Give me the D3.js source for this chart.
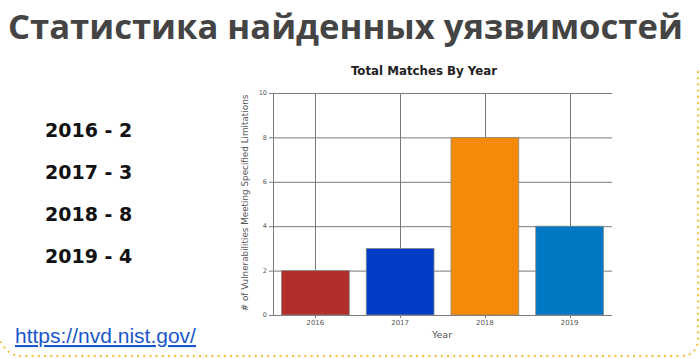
<!DOCTYPE html>
<html>
<head>
<meta charset="utf-8">
<script src="https://d3js.org/d3.v7.min.js"></script>
<style>
  html, body { margin: 0; padding: 0; background: #fff; }
  svg { display: block; }
</style>
</head>
<body>
<div id="chart"></div>
<script>
    const years = ["2016", "2017", "2018", "2019"];
    const matches = [2, 3, 8, 4];
    const barColors = ["#b22e2a", "#003cc6", "#f58a08", "#0078c4"];
    const yTicks = [0, 2, 4, 6, 8, 10];
    const summaryLines = ["2016 - 2", "2017 - 3", "2018 - 8", "2019 - 4"];

    const width = 700, height = 359;
    const svg = d3.select("#chart").append("svg")
        .attr("width", width)
        .attr("height", height);

    // slide heading
    const heading = svg.append("text")
        .attr("x", 8)
        .attr("y", 39)
        .attr("font-family", "Open Sans")
        .attr("font-weight", 700)
        .attr("font-size", 30)
        .attr("fill", "#444")
        .text("Статистика найденных уязвимостей");
    // fit heading to the reference width
    const hw = heading.node().getComputedTextLength();
    heading.attr("font-size", 30 * 675 / hw);

    // dotted frame
    svg.append("path")
        .attr("d", "M698,72 L698,338 Q698,356 680,356 L22,356 Q8,356 1,342")
        .attr("fill", "none")
        .attr("stroke", "#f4c34a")
        .attr("stroke-width", 2.4)
        .attr("stroke-linecap", "round")
        .attr("stroke-dasharray", "0 6.2");

    // summary lines on the left
    svg.append("g")
        .selectAll("text")
        .data(summaryLines)
        .join("text")
        .attr("x", 45)
        .attr("y", (d, i) => 137 + i * 42)
        .attr("font-family", "DejaVu Sans")
        .attr("font-weight", 700)
        .attr("font-size", 19)
        .attr("fill", "#111")
        .text(d => d);

    // link
    svg.append("text")
        .attr("x", 15)
        .attr("y", 343)
        .attr("font-family", "Liberation Sans")
        .attr("font-size", 21)
        .attr("fill", "#1a57c9")
        .attr("text-decoration", "underline")
        .text("https://nvd.nist.gov/");

    // chart
    const plot = { left: 273, right: 612, top: 93, bottom: 315 };

    const x = d3.scaleBand()
        .domain(years)
        .range([plot.left, plot.right])
        .paddingInner(0.2)
        .paddingOuter(0.1);

    const y = d3.scaleLinear()
        .domain([0, 10])
        .range([plot.bottom, plot.top]);

    const g = svg.append("g");

    // horizontal grid
    g.append("g")
        .selectAll("line")
        .data(yTicks)
        .join("line")
        .attr("x1", plot.left - 4)
        .attr("x2", plot.right)
        .attr("y1", d => y(d) + 0.5)
        .attr("y2", d => y(d) + 0.5)
        .attr("stroke", "#7a7a7a")
        .attr("stroke-width", 1);

    // vertical grid at band centres
    g.append("g")
        .selectAll("line")
        .data(years)
        .join("line")
        .attr("x1", d => Math.round(x(d) + x.bandwidth() / 2) + 0.5)
        .attr("x2", d => Math.round(x(d) + x.bandwidth() / 2) + 0.5)
        .attr("y1", plot.top)
        .attr("y2", plot.bottom + 3)
        .attr("stroke", "#7a7a7a")
        .attr("stroke-width", 1);

    // left axis line
    g.append("line")
        .attr("x1", plot.left + 0.5)
        .attr("x2", plot.left + 0.5)
        .attr("y1", plot.top)
        .attr("y2", plot.bottom)
        .attr("stroke", "#7a7a7a");

    // bars
    g.append("g")
        .selectAll("rect")
        .data(matches)
        .join("rect")
        .attr("x", (d, i) => x(years[i]))
        .attr("y", d => y(d))
        .attr("width", x.bandwidth())
        .attr("height", d => y(0) - y(d))
        .attr("fill", (d, i) => barColors[i])
        .attr("stroke", "#8a8a8a")
        .attr("stroke-width", 0.8);

    // y tick labels
    g.append("g")
        .selectAll("text")
        .data(yTicks)
        .join("text")
        .attr("x", plot.left - 6)
        .attr("y", d => y(d))
        .attr("dy", "0.35em")
        .attr("text-anchor", "end")
        .attr("font-family", "DejaVu Sans")
        .attr("font-size", 6.5)
        .attr("fill", "#555")
        .text(d => d);

    // x tick labels
    g.append("g")
        .selectAll("text")
        .data(years)
        .join("text")
        .attr("x", d => x(d) + x.bandwidth() / 2)
        .attr("y", plot.bottom + 10)
        .attr("text-anchor", "middle")
        .attr("font-family", "DejaVu Sans")
        .attr("font-size", 7)
        .attr("fill", "#555")
        .text(d => d);

    // titles
    svg.append("text")
        .attr("x", 424)
        .attr("y", 75)
        .attr("text-anchor", "middle")
        .attr("font-family", "DejaVu Sans")
        .attr("font-weight", 700)
        .attr("font-size", 11.8)
        .attr("fill", "#222")
        .text("Total Matches By Year");

    svg.append("text")
        .attr("x", 442)
        .attr("y", 338)
        .attr("text-anchor", "middle")
        .attr("font-family", "DejaVu Sans")
        .attr("font-size", 9.5)
        .attr("fill", "#555")
        .text("Year");

    svg.append("text")
        .attr("transform", `translate(248, ${(plot.top + plot.bottom) / 2 - 1}) rotate(-90)`)
        .attr("text-anchor", "middle")
        .attr("font-family", "DejaVu Sans")
        .attr("font-size", 8.8)
        .attr("fill", "#555")
        .text("# of Vulnerabilities Meeting Specified Limitations");
</script>
</body>
</html>
